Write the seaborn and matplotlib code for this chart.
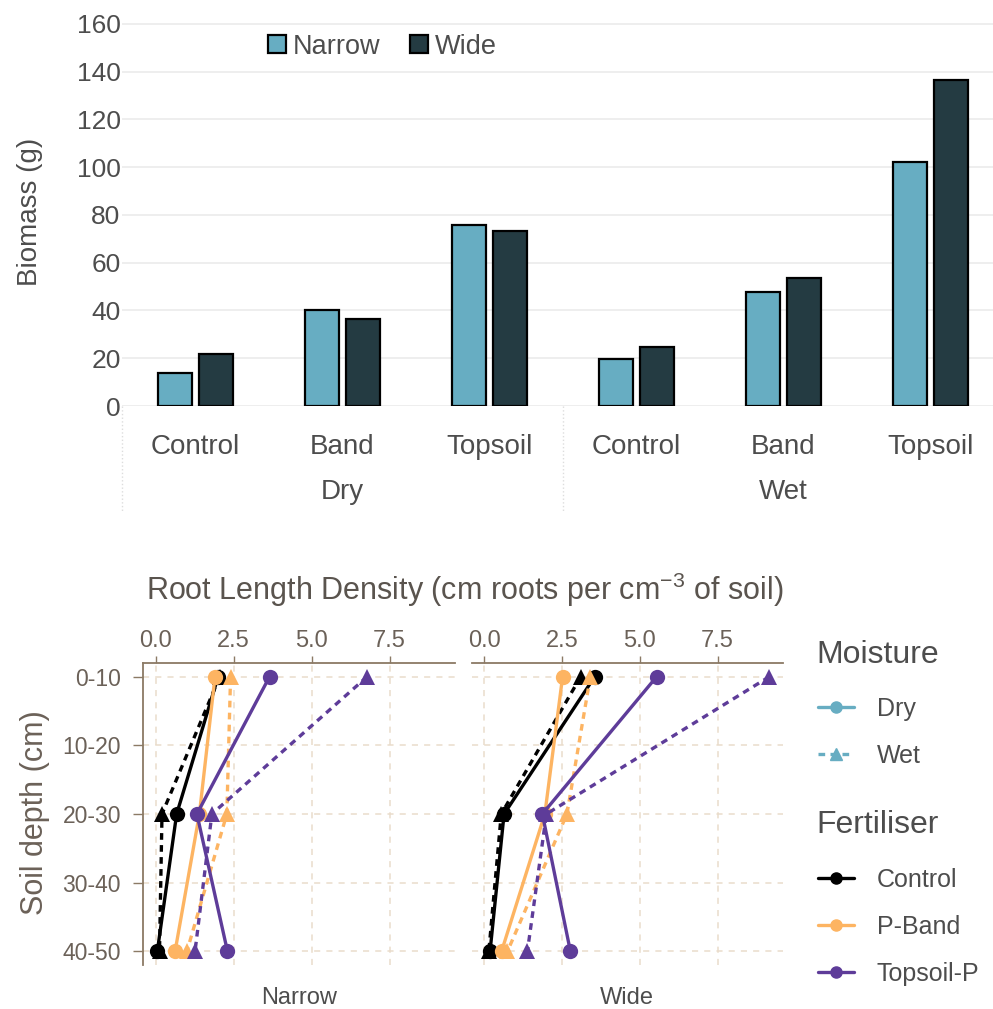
import matplotlib
matplotlib.use('Agg')
import matplotlib.pyplot as plt
import seaborn as sns
import pandas as pd
from matplotlib.lines import Line2D
from matplotlib.patches import Patch
from matplotlib.transforms import blended_transform_factory

sns.set_theme(style="white")
plt.rcParams['font.family'] = ['Liberation Sans', 'DejaVu Sans']
plt.rcParams['mathtext.default'] = 'regular'

# ---- biomass data (top chart) ----
moisture_groups = ['Dry', 'Dry', 'Dry', 'Wet', 'Wet', 'Wet']
fert_groups = ['Control', 'Band', 'Topsoil', 'Control', 'Band', 'Topsoil']
narrow_biomass = [13.8, 40.0, 75.7, 19.5, 47.8, 102.0]
wide_biomass = [21.8, 36.3, 73.3, 24.8, 53.8, 136.4]

# ---- root length density data (bottom chart) ----
depth_labels = ['0-10', '10-20', '20-30', '30-40', '40-50']
sampled_depths = ['0-10', '20-30', '40-50']
narrow_control_dry = [2.0, 0.67, 0.05]
narrow_control_wet = [2.05, 0.2, 0.12]
narrow_pband_dry = [1.9, 1.4, 0.62]
narrow_pband_wet = [2.4, 2.28, 1.0]
narrow_topsoil_dry = [3.65, 1.32, 2.3]
narrow_topsoil_wet = [6.78, 1.8, 1.26]
wide_control_dry = [3.55, 0.64, 0.19]
wide_control_wet = [3.1, 0.55, 0.15]
wide_pband_dry = [2.52, 1.95, 0.56]
wide_pband_wet = [3.41, 2.66, 0.75]
wide_topsoil_dry = [5.54, 1.87, 2.77]
wide_topsoil_wet = [9.16, 2.0, 1.39]

# colours
bar_palette = {'Narrow': '#67ADC2', 'Wide': '#243B42'}
fert_palette = {'Control': '#000000', 'P-Band': '#FDB462', 'Topsoil-P': '#5E3C99'}
brown = '#8B7A65'
brown_text = '#6B6158'
grid_beige = '#EADCCB'
grey_text = '#4D4D4D'

# build tables
rows = []
for m, f, n, w in zip(moisture_groups, fert_groups, narrow_biomass, wide_biomass):
    rows.append({'group': f'{m} {f}', 'spacing': 'Narrow', 'biomass': n})
    rows.append({'group': f'{m} {f}', 'spacing': 'Wide', 'biomass': w})
bio = pd.DataFrame(rows)
group_order = [f'{m} {f}' for m, f in zip(moisture_groups, fert_groups)]

series = {
    ('Narrow', 'Control', 'Dry'): narrow_control_dry,
    ('Narrow', 'Control', 'Wet'): narrow_control_wet,
    ('Narrow', 'P-Band', 'Dry'): narrow_pband_dry,
    ('Narrow', 'P-Band', 'Wet'): narrow_pband_wet,
    ('Narrow', 'Topsoil-P', 'Dry'): narrow_topsoil_dry,
    ('Narrow', 'Topsoil-P', 'Wet'): narrow_topsoil_wet,
    ('Wide', 'Control', 'Dry'): wide_control_dry,
    ('Wide', 'Control', 'Wet'): wide_control_wet,
    ('Wide', 'P-Band', 'Dry'): wide_pband_dry,
    ('Wide', 'P-Band', 'Wet'): wide_pband_wet,
    ('Wide', 'Topsoil-P', 'Dry'): wide_topsoil_dry,
    ('Wide', 'Topsoil-P', 'Wet'): wide_topsoil_wet,
}
rrows = []
for (panel, fert, moist), vals in series.items():
    for d, v in zip(sampled_depths, vals):
        rrows.append({'panel': panel, 'fertiliser': fert, 'moisture': moist,
                      'depth': depth_labels.index(d), 'rld': v})
roots = pd.DataFrame(rrows)

fig = plt.figure(figsize=(9.93, 10.09), dpi=100)
W, H = 993, 1009

# ---- top: biomass bars ----
ax = fig.add_axes([122 / W, 1 - 406 / H, 871 / W, 389 / H])
sns.barplot(data=bio, x='group', y='biomass', hue='spacing', order=group_order,
            hue_order=['Narrow', 'Wide'], palette=bar_palette, saturation=1,
            width=0.56, gap=0.17, edgecolor='black', linewidth=1.6, errorbar=None, ax=ax)
ax.set_xlim(-0.5, 5.425)
ax.set_ylim(0, 162.9)
ax.set_yticks(range(0, 161, 20))
ax.tick_params(axis='y', labelsize=19, colors=grey_text, length=0, pad=1)
ax.set_ylabel('Biomass (g)', fontsize=20, color=grey_text, labelpad=24)
ax.set_xlabel('')
ax.yaxis.grid(True, color='#EBEBEB', lw=1.2)
ax.set_axisbelow(True)
for s in ax.spines.values():
    s.set_visible(False)
ax.set_xticks(range(6))
ax.set_xticklabels(fert_groups)
ax.tick_params(axis='x', labelsize=20, colors=grey_text, length=0, pad=20)
tr = blended_transform_factory(ax.transData, ax.transAxes)
for m, xc in [('Dry', 1), ('Wet', 4)]:
    ax.text(xc, -0.22, m, transform=tr, ha='center', va='center', fontsize=20, color=grey_text)
for xs in [-0.5, 2.5]:
    ax.plot([xs, xs], [0, -0.27], transform=tr, clip_on=False, color='#DDDDDD', lw=1, ls=':')
ax.legend(handles=[Patch(facecolor=bar_palette[k], edgecolor='black', lw=1.6, label=k)
                   for k in ['Narrow', 'Wide']],
          loc='center left', bbox_to_anchor=(0.14, 0.923), ncol=2, frameon=False,
          fontsize=19.5, handlelength=0.65, handleheight=0.65, handletextpad=0.25,
          columnspacing=1.1, labelcolor=grey_text)

# ---- bottom: root length density ----
panels = [('Narrow', 143.3, 455.0), ('Wide', 471.7, 783.0)]
for i, (panel, x0, x1) in enumerate(panels):
    bx = fig.add_axes([x0 / W, 1 - 965 / H, (x1 - x0) / W, 302 / H])
    sub = roots[roots['panel'] == panel]
    sns.lineplot(data=sub, x='rld', y='depth', hue='fertiliser',
                 hue_order=['Control', 'P-Band', 'Topsoil-P'], palette=fert_palette,
                 style='moisture', style_order=['Dry', 'Wet'],
                 markers={'Dry': 'o', 'Wet': '^'}, dashes={'Dry': '', 'Wet': (2.0, 1.6)},
                 orient='y', sort=True, estimator=None, markersize=11, linewidth=2.4,
                 markeredgewidth=0, legend=False, ax=bx)
    bx.set_xlim(-0.4, 9.6)
    bx.set_ylim(4.2, -0.2)
    bx.set_xticks([0, 2.5, 5.0, 7.5])
    bx.set_xticklabels([f'{v:.1f}' for v in [0, 2.5, 5.0, 7.5]])
    bx.set_yticks(range(len(depth_labels)))
    bx.xaxis.tick_top()
    bx.grid(True, color=grid_beige, lw=1.1, ls=(0, (4, 4)))
    bx.set_axisbelow(True)
    for s in ['right', 'bottom']:
        bx.spines[s].set_visible(False)
    bx.spines['top'].set_color(brown)
    bx.spines['top'].set_linewidth(1.3)
    bx.tick_params(axis='x', top=True, labeltop=True, bottom=False, labelbottom=False,
                   direction='out', length=5, width=1, color=brown, labelsize=17,
                   labelcolor=brown_text, pad=3)
    if i == 0:
        bx.set_yticklabels(depth_labels)
        bx.spines['left'].set_color(brown)
        bx.spines['left'].set_linewidth(1.3)
        bx.tick_params(axis='y', left=True, direction='out', length=7, width=1,
                       color=brown, labelsize=16.5, labelcolor=brown_text, pad=9)
    else:
        bx.spines['left'].set_visible(False)
        bx.tick_params(axis='y', left=False, labelleft=False)
    bx.set_xlabel('')
    bx.set_ylabel('')
    bx.text(0.5, -0.11, panel, transform=bx.transAxes, ha='center', va='center',
            fontsize=17, color=grey_text)

fig.text(465 / W, 1 - 590 / H, 'Root Length Density (cm roots per cm$^{-3}$ of soil)',
         ha='center', va='center', fontsize=22, color='#5A544E')
fig.text(35 / W, 1 - 813 / H, 'Soil depth (cm)', rotation=90, ha='center', va='center',
         fontsize=22, color=brown_text)

# legends for the root panels
fig.text(816 / W, 1 - 655 / H, 'Moisture', ha='left', va='center', fontsize=23, color=grey_text)
fig.text(816 / W, 1 - 825 / H, 'Fertiliser', ha='left', va='center', fontsize=23, color=grey_text)
leg_kw = dict(loc='upper left', frameon=False, fontsize=18,
              handlelength=1.45, handletextpad=0.9, labelspacing=0.92,
              labelcolor=grey_text, borderaxespad=0, borderpad=0)
fig.legend(handles=[
    Line2D([], [], color='#67ADC2', marker='o', ms=8, lw=2.4, label='Dry'),
    Line2D([], [], color='#67ADC2', marker='^', ms=8, lw=2.4, ls=(0, (2, 1.6)), label='Wet')],
    bbox_to_anchor=(818 / W, 1 - 697 / H), **leg_kw)
fig.legend(handles=[
    Line2D([], [], color=fert_palette[k], marker='o', ms=8, lw=2.4, label=k)
    for k in ['Control', 'P-Band', 'Topsoil-P']],
    bbox_to_anchor=(818 / W, 1 - 868 / H), **leg_kw)

fig.savefig('out.png', dpi=100)
